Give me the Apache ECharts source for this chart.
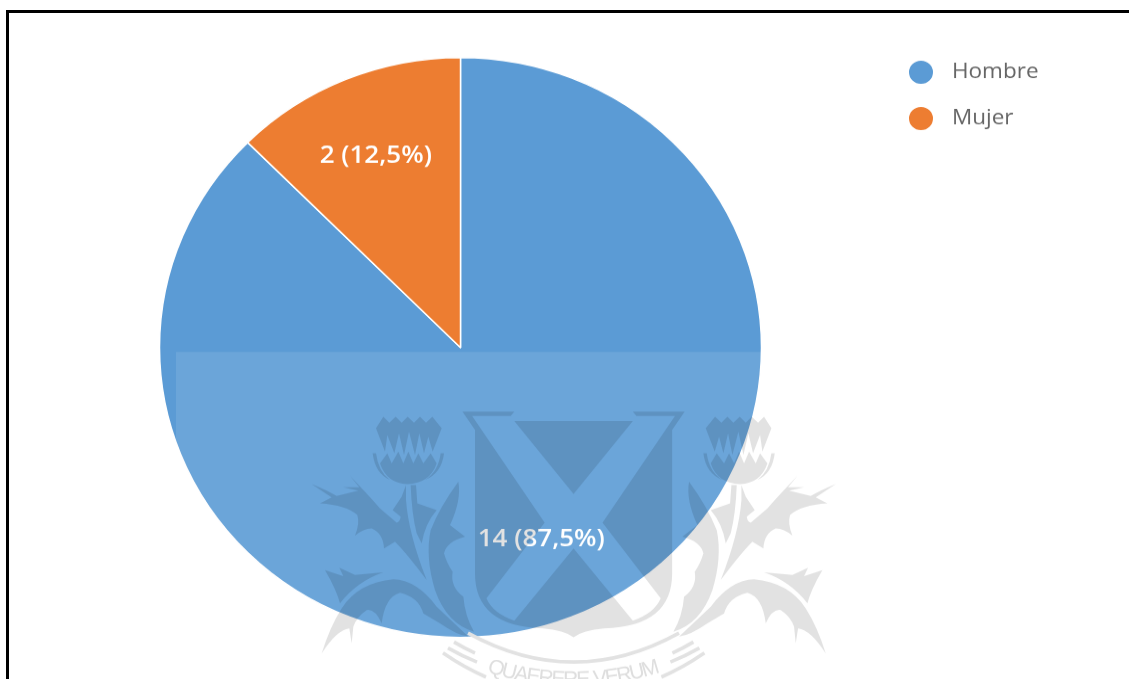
<!DOCTYPE html>
<html>
<head>
<meta charset="utf-8">
<style>
  html, body { margin: 0; padding: 0; width: 1129px; height: 679px; overflow: hidden; background: #fff; }
  #frame { position: absolute; left: 6px; top: 10px; width: 1123px; height: 669px; box-sizing: border-box;
           border-left: 3px solid #000; border-top: 3px solid #000; z-index: 5; pointer-events: none; }
  /* the whole plot is slightly squashed vertically, so the disc reads as an ellipse */
  #chart { position: absolute; left: 0; top: 0; width: 1129px; height: 705px;
           transform-origin: 0 0; transform: scaleY(0.9634); }
</style>
<script src="https://cdn.jsdelivr.net/npm/echarts@6/dist/echarts.min.js"></script>
</head>
<body>
<div id="chart"></div>
<div id="frame"></div>
<script>
const categories = ['Hombre', 'Mujer'];
const counts = [14, 2];
const sliceColors = ['#5b9bd5', '#ed7d31'];
const motto = 'QUAERERE VERUM';

const squash = 0.9634;
const ink = 'rgba(0,0,0,0.115)';

// Crest outlines, left half; the right half is the same shape reflected.
const crestHead = [
  'M228,85 L250,50 L268,68 L287,50 L305,68 L323,50 L342,68 L360,50 L378,68 L397,50 L425,85 L398,155 L385,110 L372,160 L358,100 L345,165 L327,95 L312,165 L297,100 L283,160 L262,105 L255,155 Z',
  'M240,190 L262,160 L275,190 L295,155 L310,190 L325,155 L340,190 L355,160 L370,190 L392,160 L410,190 Q390,250 322,252 Q260,250 240,190 Z',
  'M218,160 Q225,220 270,240 Q235,215 228,160 Z',
  'M432,160 Q425,220 375,240 Q415,215 422,160 Z'
];
const crestLeaves = [
  'M35,252 Q85,272 110,288 L175,272 L130,262 L178,262 L150,228 Q200,280 240,325 L290,368 Q300,365 302,350 L278,330 L305,290 L318,255 L318,300 Q325,400 380,540 Q320,460 285,425 L252,445 Q250,400 215,385 Q190,385 165,407 Q180,370 172,345 Q140,315 60,310 L95,292 Z',
  'M332,255 L348,255 L352,310 L410,330 Q375,370 365,430 L350,400 Q335,340 332,255 Z',
  'M475,245 Q485,300 450,375 L495,410 Q440,425 432,460 Q440,490 458,515 Q450,560 490,590 Q495,650 522,695 Q440,670 405,570 Q375,470 392,390 Q420,320 475,245 Z',
  'M75,510 L130,528 L118,503 L165,525 L250,517 Q170,545 120,610 Q110,570 75,510 Z',
  'M65,760 Q90,680 125,625 Q175,548 280,538 Q350,540 410,620 L505,710 Q470,705 420,670 L370,640 Q355,590 300,578 Q255,590 245,670 Q225,625 200,630 Q170,650 160,680 L155,730 L148,685 Q110,690 65,760 Z'
];
const shieldBody = 'M455,215 L600,215 L590,228 L482,228 L685,548 L522,775 Q540,820 600,842 L766,625 L932,842 Q992,820 1010,775 L847,548 L1050,228 L942,228 L932,215 L1077,215 L1042,270 L1042,700 Q1042,860 852,865 Q792,870 766,892 Q740,870 680,865 Q490,860 490,700 L490,270 Z';
const shieldTop = 'M600,243 L932,243 L766,462 Z';
const ribbonLines = [
  'M443,653 Q465,668 486,677',
  'M448,648 Q462,656 477,662',
  'M454,642 Q464,648 475,653'
];

function pathEl(d, style) {
  return { type: 'path', shape: { pathData: d }, style: style, silent: true };
}

const axisX = 573.7;

// Motto letters follow the ring, each advancing by its own measured width
const ringR = 272, ringCy = 408, ringSpan = 36 * Math.PI / 180;
const mottoFont = '21px "Liberation Sans"';
const measure = document.createElement('canvas').getContext('2d');
measure.font = mottoFont;
const advances = motto.split('').map(ch => measure.measureText(ch).width);
const mottoWidth = advances.reduce((a, b) => a + b, 0);
let walked = 0;
const letters = motto.split('').map((ch, i) => {
  const a = ((walked + advances[i] / 2) / mottoWidth - 0.5) * ringSpan;
  walked += advances[i];
  return {
    type: 'text', silent: true,
    x: axisX + ringR * Math.sin(a),
    y: ringCy + ringR * Math.cos(a),
    rotation: a,
    style: { text: ch, fill: '#dedede', font: mottoFont, textAlign: 'center', textVerticalAlign: 'middle' }
  };
});

const ribbonStyle = { fill: null, stroke: '#e2e2e2', lineWidth: 3.5 };

function drawCrest() {
  const plant = () => crestHead.concat(crestLeaves).map(d => pathEl(d, { fill: ink }));
  return {
    type: 'group', x: 0, y: 0, scaleY: 1 / squash,
    children: [
      // lighter panel laid over the lower part of the disc
      { type: 'rect', silent: true, shape: { x: 176, y: 352, width: 590, height: 327 }, style: { fill: 'rgba(255,255,255,0.1)' } },
      { type: 'group', x: 300, y: 340, scaleX: 1 / 2.8, scaleY: 1 / 3, children: [pathEl(shieldBody, { fill: ink }), pathEl(shieldTop, { fill: ink })] },
      { type: 'group', x: 300, y: 400, scaleX: 1 / 3, scaleY: 1 / 3, children: plant() },
      { type: 'group', x: 2 * axisX - 300, y: 400, scaleX: -1 / 3, scaleY: 1 / 3, children: plant() },
      pathEl('M468,633 Q573.7,691 679,633', ribbonStyle),
      { type: 'group', children: ribbonLines.map(d => pathEl(d, ribbonStyle)) },
      { type: 'group', x: 2 * axisX, scaleX: -1, children: ribbonLines.map(d => pathEl(d, ribbonStyle)) },
      { type: 'group', children: letters }
    ]
  };
}

const option = {
  animation: false,
  backgroundColor: '#fff',
  color: sliceColors,
  legend: {
    orient: 'vertical', left: 902, top: 56,
    itemWidth: 26, itemHeight: 26, itemGap: 20, icon: 'circle',
    data: categories,
    textStyle: { color: '#666', fontFamily: '"Open Sans"', fontSize: 22.5, padding: [0, 0, 0, 13] }
  },
  series: [{
    type: 'pie',
    center: [460.5, 360.7],
    radius: 301,
    startAngle: 90,
    clockwise: true,
    silent: true,
    itemStyle: { borderColor: '#fff', borderWidth: 1.5 },
    labelLine: { show: false },
    label: {
      position: 'inside', color: '#fff', fontFamily: '"Open Sans"', fontSize: 26, fontWeight: 600,
      formatter: p => p.value + ' (' + String(p.percent).replace('.', ',') + '%)'
    },
    data: categories.map((name, i) => ({
      name: name,
      value: counts[i],
      label: { offset: i === 0 ? [22, 57] : [-26, -57] }
    }))
  }, {
    type: 'custom',
    coordinateSystem: 'none',
    z: 10,
    silent: true,
    data: [0],
    renderItem: drawCrest
  }]
};

const chart = echarts.init(document.getElementById('chart'), null, { renderer: 'canvas' });
chart.setOption(option);
</script>
</body>
</html>
